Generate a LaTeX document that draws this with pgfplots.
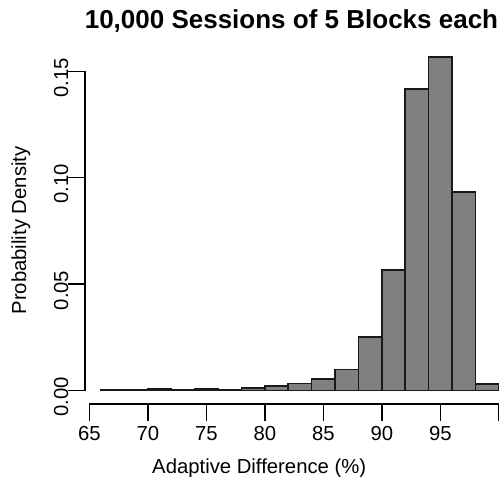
\documentclass[border=0pt]{standalone}
\usepackage{fontspec}
\setmainfont{Liberation Sans}
\usepackage{pgfplots}
\pgfplotsset{compat=1.18}

\definecolor{barfill}{RGB}{128,128,128}

\begin{document}
\begin{tikzpicture}
\begin{axis}[
  at={(85bp,73bp)}, anchor=south west,
  scale only axis,
  width=413.8bp, height=361.6bp,
  xmin=64.632, xmax=100,
  ymin=-0.00643, ymax=0.1636,
  enlargelimits=false,
  clip=false,
  axis x line*=bottom, axis y line*=left,
  axis line style={draw=none},
  tick align=outside,
  major tick length=16.5bp,
  every tick/.style={black, line width=1.6bp},
  xtick={65,70,75,80,85,90,95,100},
  xticklabels={65,70,75,80,85,90,95,{}},
  ytick={0,0.05,0.10,0.15},
  yticklabels={0.00,0.05,0.10,0.15},
  every tick label/.append style={font=\fontsize{20.3bp}{24bp}\selectfont},
  xticklabel style={anchor=north, inner sep=0pt, yshift=-6bp},
  yticklabel style={rotate=90, anchor=south, inner sep=0pt, xshift=-6.5bp},
  xlabel={Adaptive Difference (\%)},
  ylabel={Probability Density},
  label style={font=\fontsize{20.3bp}{24bp}\selectfont},
  xlabel style={at={(axis description cs:0.421,-0.1912)}, anchor=base, inner sep=0pt},
  ylabel style={at={(axis description cs:-0.1421,0.480)}, anchor=base, rotate=0, inner sep=0pt},
  title={10,000 Sessions of 5 Blocks each},
  title style={font=\fontsize{26bp}{30bp}\selectfont\bfseries,
               at={(axis description cs:0.499,1.0229)}, anchor=base, inner sep=0pt},
]
% histogram densities, bins of width 2 (left edge, density); last row closes the final bin
\addplot[ybar interval, fill=barfill, draw=black!90, line width=1.6bp]
  coordinates {
    (66,0.0003) (68,0.0003) (70,0.0005) (72,0.0002) (74,0.0006)
    (76,0.0004) (78,0.0010) (80,0.0021) (82,0.0032) (84,0.0053)
    (86,0.0097) (88,0.0250) (90,0.0565) (92,0.1417) (94,0.1566)
    (96,0.0933) (98,0.0031) (100,0.0031)
  };
% detached axis lines spanning only the tick range
\draw[line width=1.6bp, line cap=rect] (axis cs:65,-0.00643) -- (axis cs:100,-0.00643);
\draw[line width=1.6bp, line cap=rect] (axis cs:64.632,0) -- (axis cs:64.632,0.15);
\end{axis}
\pgfresetboundingbox
\path (0,0) rectangle (499bp,477bp);
\end{tikzpicture}
\end{document}
